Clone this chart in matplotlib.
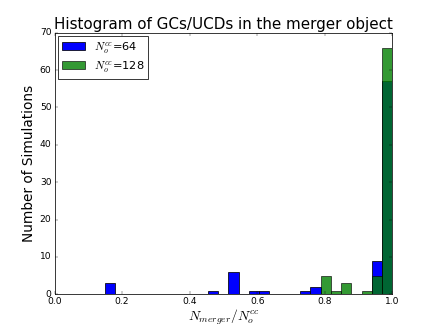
import numpy as np
import matplotlib
matplotlib.use("Agg")
import matplotlib.pyplot as plt

# 히스토그램 구간 (28개, 0.15 ~ 1.0)
bin_lo = 0.15
bin_hi = 1.0
n_bins = 28

# 구간별 빈도
counts_64 = [3, 0, 0, 0, 0, 0, 0, 0, 0, 0, 1, 0, 6, 0, 1, 1, 0, 0, 0, 1, 2, 0, 0, 0, 0, 0, 9, 57]
counts_128 = [0, 0, 0, 0, 0, 0, 0, 0, 0, 0, 0, 0, 0, 0, 0, 0, 0, 0, 0, 0, 0, 5, 1, 3, 0, 1, 5, 66]
labels = [r"$N_o^{cc}$=64", r"$N_o^{cc}$=128"]

plt.style.use("classic")
edges = np.linspace(bin_lo, bin_hi, n_bins + 1)
width = edges[1] - edges[0]

fig, ax = plt.subplots(figsize=(8, 6), dpi=54.5)
ax.bar(edges[:-1], counts_64, width=width, align="edge", color="b",
       edgecolor="k", label=labels[0])
ax.bar(edges[:-1], counts_128, width=width, align="edge", color="g",
       alpha=0.8, edgecolor="k", label=labels[1])

ax.set_xlim(0, 1.0)
ax.set_ylim(0, 70)
ax.set_title("Histogram of GCs/UCDs in the merger object", fontsize=20)
ax.set_ylabel("Number of Simulations", fontsize=18)
ax.set_xlabel(r"$N_{merger}/N_o^{cc}$", fontsize=18, labelpad=2)
ax.legend(loc="upper left", fontsize=15, labelspacing=0.3, borderpad=0.35,
          borderaxespad=0.3)

fig.savefig("out.png", dpi=54.5)
